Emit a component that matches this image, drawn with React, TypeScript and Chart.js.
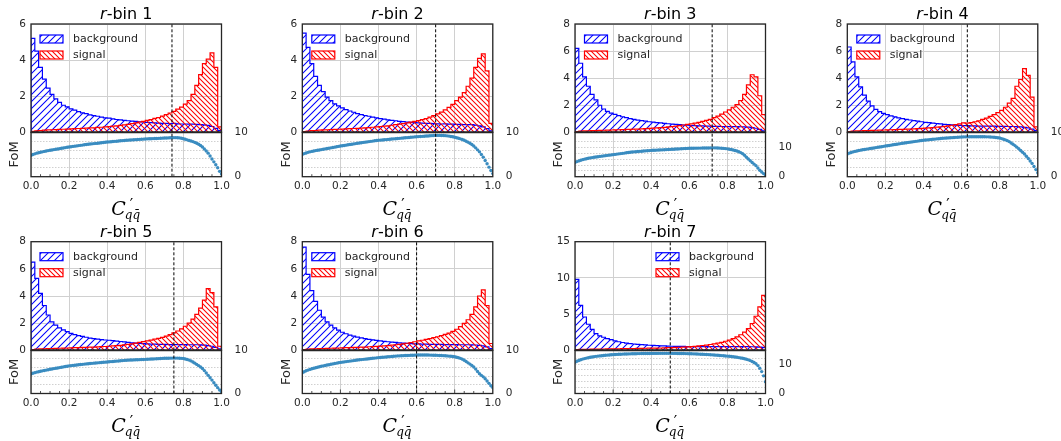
import React, { useEffect, useRef } from 'react';
import { Chart, registerables } from 'chart.js';

Chart.register(...registerables);

// ---------------- data ----------------
const BIN_STEP = 0.02; // 50 bins on [0, 1]
const FOM_STEP = 0.01; // FoM evaluated at cuts 0.00 ... 1.00
const X_TICK_STEP = 0.2;
const PANEL_NAMES = ['1', '2', '3', '4', '5', '6', '7'];
const LEGEND_LABELS = ['background', 'signal'];
const CUT_VALUES = [0.74, 0.7, 0.72, 0.63, 0.75, 0.6, 0.5];
const HIST_Y_MAX = [6, 6, 8, 8, 8, 8, 15];
const HIST_Y_STEP = [2, 2, 2, 2, 2, 2, 5];
const FOM_Y_MAX = [10, 10, 15.3, 10, 10, 10, 14.7];
const FOM_Y_GRID_STEP = 2;
const FOM_RIGHT_TICKS = [0, 10];

const BKG_1 = [5.2, 4.5, 3.6, 2.95, 2.45, 2.1, 1.85, 1.66, 1.5, 1.41, 1.3, 1.23, 1.15, 1.08, 1.03, 0.97, 0.92, 0.89, 0.84, 0.8, 0.78, 0.74, 0.71, 0.69, 0.66, 0.64, 0.62, 0.6, 0.58, 0.57, 0.55, 0.54, 0.52, 0.51, 0.5, 0.49, 0.48, 0.49, 0.47, 0.46, 0.46, 0.45, 0.45, 0.44, 0.43, 0.41, 0.38, 0.32, 0.22, 0.1];
const SIG_1 = [0.05, 0.08, 0.1, 0.12, 0.13, 0.14, 0.15, 0.16, 0.17, 0.18, 0.19, 0.2, 0.21, 0.22, 0.23, 0.24, 0.25, 0.27, 0.28, 0.3, 0.32, 0.34, 0.36, 0.38, 0.41, 0.44, 0.48, 0.52, 0.57, 0.6, 0.66, 0.7, 0.77, 0.82, 0.9, 0.98, 1.07, 1.16, 1.28, 1.4, 1.56, 1.75, 2.1, 2.6, 3.2, 3.8, 4.05, 4.4, 3.6, 0.3];
const BKG_2 = [5.5, 4.7, 3.8, 3.1, 2.6, 2.25, 1.95, 1.75, 1.58, 1.46, 1.35, 1.26, 1.18, 1.11, 1.04, 0.98, 0.93, 0.89, 0.84, 0.8, 0.76, 0.73, 0.69, 0.66, 0.64, 0.61, 0.59, 0.57, 0.55, 0.54, 0.52, 0.51, 0.5, 0.49, 0.48, 0.47, 0.46, 0.47, 0.45, 0.45, 0.44, 0.44, 0.43, 0.43, 0.42, 0.4, 0.36, 0.3, 0.2, 0.08];
const SIG_2 = [0.04, 0.07, 0.09, 0.1, 0.12, 0.13, 0.14, 0.15, 0.16, 0.17, 0.18, 0.19, 0.2, 0.21, 0.22, 0.23, 0.25, 0.26, 0.28, 0.3, 0.32, 0.34, 0.36, 0.39, 0.42, 0.45, 0.48, 0.52, 0.56, 0.61, 0.65, 0.7, 0.76, 0.84, 0.92, 1.02, 1.12, 1.24, 1.38, 1.55, 1.75, 1.95, 2.2, 2.55, 3.0, 3.6, 4.1, 4.35, 3.4, 0.5];
const BKG_3 = [6.2, 5.1, 4.1, 3.4, 2.8, 2.4, 2.0, 1.72, 1.55, 1.42, 1.32, 1.23, 1.15, 1.08, 1.01, 0.95, 0.9, 0.86, 0.82, 0.78, 0.75, 0.72, 0.69, 0.66, 0.63, 0.6, 0.58, 0.56, 0.54, 0.52, 0.5, 0.49, 0.48, 0.47, 0.46, 0.45, 0.44, 0.44, 0.43, 0.43, 0.42, 0.42, 0.42, 0.41, 0.4, 0.38, 0.35, 0.3, 0.22, 0.1];
const SIG_3 = [0.05, 0.08, 0.1, 0.11, 0.12, 0.13, 0.14, 0.15, 0.16, 0.17, 0.18, 0.19, 0.2, 0.21, 0.22, 0.23, 0.24, 0.26, 0.27, 0.29, 0.31, 0.33, 0.35, 0.37, 0.4, 0.43, 0.46, 0.5, 0.54, 0.58, 0.62, 0.68, 0.74, 0.8, 0.88, 0.96, 1.08, 1.2, 1.34, 1.5, 1.65, 1.85, 2.05, 2.35, 2.8, 3.5, 4.25, 4.1, 2.7, 1.3];
const BKG_4 = [6.3, 5.2, 4.1, 3.35, 2.75, 2.3, 1.95, 1.7, 1.52, 1.4, 1.3, 1.22, 1.14, 1.07, 1.01, 0.96, 0.91, 0.86, 0.82, 0.78, 0.74, 0.71, 0.68, 0.65, 0.62, 0.59, 0.57, 0.55, 0.53, 0.51, 0.5, 0.49, 0.48, 0.47, 0.46, 0.46, 0.45, 0.45, 0.45, 0.44, 0.44, 0.44, 0.43, 0.43, 0.42, 0.4, 0.37, 0.32, 0.24, 0.12];
const SIG_4 = [0.05, 0.08, 0.1, 0.11, 0.12, 0.13, 0.14, 0.15, 0.16, 0.17, 0.18, 0.19, 0.2, 0.21, 0.22, 0.23, 0.24, 0.26, 0.27, 0.29, 0.31, 0.33, 0.35, 0.38, 0.41, 0.44, 0.48, 0.52, 0.56, 0.62, 0.7, 0.68, 0.72, 0.78, 0.85, 0.95, 1.05, 1.18, 1.3, 1.45, 1.62, 1.85, 2.15, 2.5, 3.4, 3.9, 4.7, 4.2, 2.6, 0.4];
const BKG_5 = [6.5, 5.3, 4.2, 3.3, 2.6, 2.1, 1.85, 1.65, 1.5, 1.37, 1.25, 1.16, 1.08, 1.02, 0.96, 0.9, 0.86, 0.82, 0.79, 0.76, 0.74, 0.71, 0.68, 0.65, 0.62, 0.58, 0.55, 0.53, 0.51, 0.49, 0.47, 0.46, 0.45, 0.44, 0.43, 0.43, 0.42, 0.42, 0.42, 0.42, 0.42, 0.41, 0.41, 0.41, 0.4, 0.38, 0.35, 0.3, 0.22, 0.1];
const SIG_5 = [0.05, 0.08, 0.1, 0.11, 0.12, 0.13, 0.14, 0.15, 0.16, 0.17, 0.18, 0.19, 0.2, 0.21, 0.22, 0.23, 0.24, 0.25, 0.27, 0.28, 0.3, 0.32, 0.34, 0.37, 0.4, 0.44, 0.48, 0.53, 0.58, 0.64, 0.7, 0.75, 0.82, 0.88, 0.95, 1.05, 1.15, 1.28, 1.42, 1.58, 1.77, 2.0, 2.3, 2.65, 3.1, 3.7, 4.55, 4.25, 3.2, 0.3];
const BKG_6 = [7.6, 5.6, 4.4, 3.6, 2.95, 2.45, 2.1, 1.85, 1.65, 1.48, 1.33, 1.22, 1.12, 1.04, 0.97, 0.91, 0.86, 0.81, 0.77, 0.73, 0.69, 0.66, 0.63, 0.6, 0.58, 0.55, 0.53, 0.51, 0.49, 0.48, 0.47, 0.46, 0.45, 0.44, 0.44, 0.43, 0.43, 0.42, 0.42, 0.42, 0.42, 0.41, 0.41, 0.41, 0.4, 0.39, 0.37, 0.33, 0.25, 0.12];
const SIG_6 = [0.05, 0.08, 0.1, 0.11, 0.12, 0.13, 0.14, 0.15, 0.16, 0.17, 0.18, 0.19, 0.2, 0.21, 0.22, 0.23, 0.24, 0.26, 0.27, 0.29, 0.31, 0.33, 0.35, 0.38, 0.41, 0.44, 0.48, 0.52, 0.57, 0.63, 0.69, 0.74, 0.8, 0.86, 0.93, 1.0, 1.08, 1.17, 1.27, 1.4, 1.55, 1.75, 1.98, 2.25, 2.65, 3.2, 4.0, 4.45, 3.3, 0.5];
const BKG_7 = [9.8, 6.2, 4.6, 3.6, 2.9, 2.3, 2.0, 1.8, 1.62, 1.48, 1.3, 1.18, 1.08, 1.0, 0.93, 0.87, 0.82, 0.78, 0.74, 0.7, 0.67, 0.64, 0.62, 0.6, 0.58, 0.56, 0.55, 0.54, 0.53, 0.52, 0.52, 0.51, 0.51, 0.5, 0.5, 0.5, 0.5, 0.5, 0.5, 0.5, 0.5, 0.5, 0.5, 0.5, 0.5, 0.5, 0.49, 0.47, 0.44, 0.4];
const SIG_7 = [0.1, 0.12, 0.13, 0.14, 0.15, 0.16, 0.17, 0.18, 0.19, 0.2, 0.2, 0.21, 0.22, 0.23, 0.24, 0.25, 0.26, 0.27, 0.28, 0.29, 0.3, 0.31, 0.32, 0.34, 0.36, 0.38, 0.4, 0.42, 0.45, 0.48, 0.5, 0.55, 0.6, 0.66, 0.72, 0.8, 0.88, 0.98, 1.1, 1.25, 1.4, 1.6, 1.85, 2.15, 2.5, 3.0, 3.7, 4.7, 6.0, 7.6];

const FOM_1 = [4.8, 5.0, 5.15, 5.3, 5.4, 5.5, 5.6, 5.7, 5.8, 5.88, 5.95,
  6.03, 6.1, 6.18, 6.25, 6.32, 6.4, 6.47, 6.55, 6.62, 6.7,
  6.76, 6.82, 6.88, 6.94, 7.0, 7.06, 7.12, 7.18, 7.24, 7.3,
  7.35, 7.4, 7.45, 7.5, 7.55, 7.6, 7.65, 7.7, 7.75, 7.8,
  7.84, 7.88, 7.92, 7.96, 8.0, 8.04, 8.08, 8.12, 8.16, 8.2,
  8.23, 8.26, 8.29, 8.32, 8.35, 8.38, 8.41, 8.44, 8.47, 8.5,
  8.52, 8.54, 8.56, 8.58, 8.6, 8.62, 8.64, 8.66, 8.68, 8.7,
  8.72, 8.74, 8.76, 8.78, 8.8, 8.8, 8.78, 8.74, 8.66, 8.55,
  8.43, 8.3, 8.17, 8.04, 7.9, 7.72, 7.52, 7.3, 7.02, 6.7,
  6.25, 5.8, 5.3, 4.65, 4.0, 3.35, 2.7, 2.0, 1.2, 0.6];
const FOM_2 = [5.0, 5.2, 5.35, 5.48, 5.6, 5.7, 5.8, 5.88, 5.96, 6.03, 6.1,
  6.18, 6.26, 6.34, 6.42, 6.5, 6.58, 6.66, 6.74, 6.82, 6.9,
  6.97, 7.04, 7.11, 7.18, 7.25, 7.32, 7.39, 7.46, 7.53, 7.6,
  7.66, 7.72, 7.78, 7.84, 7.9, 7.96, 8.02, 8.08, 8.14, 8.2,
  8.24, 8.28, 8.32, 8.36, 8.4, 8.44, 8.48, 8.52, 8.56, 8.6,
  8.64, 8.68, 8.72, 8.76, 8.8, 8.84, 8.88, 8.92, 8.96, 9.0,
  9.03, 9.06, 9.09, 9.12, 9.15, 9.18, 9.21, 9.24, 9.27, 9.3,
  9.3, 9.3, 9.29, 9.27, 9.25, 9.2, 9.14, 9.07, 8.99, 8.9,
  8.78, 8.66, 8.53, 8.38, 8.2, 8.0, 7.78, 7.53, 7.24, 6.9,
  6.5, 6.05, 5.6, 5.0, 4.4, 3.65, 2.9, 2.15, 1.4, 0.7];
const FOM_3 = [4.9, 5.2, 5.45, 5.67, 5.87, 6.05, 6.2, 6.34, 6.47, 6.59, 6.7,
  6.8, 6.9, 6.99, 7.08, 7.17, 7.26, 7.35, 7.43, 7.52, 7.6,
  7.69, 7.78, 7.87, 7.96, 8.05, 8.14, 8.23, 8.32, 8.41, 8.5,
  8.56, 8.62, 8.67, 8.73, 8.78, 8.84, 8.9, 8.95, 9.0, 9.06,
  9.09, 9.13, 9.16, 9.2, 9.23, 9.26, 9.3, 9.33, 9.37, 9.4,
  9.44, 9.48, 9.52, 9.56, 9.6, 9.64, 9.68, 9.72, 9.76, 9.8,
  9.81, 9.82, 9.83, 9.84, 9.85, 9.86, 9.87, 9.88, 9.89, 9.9,
  9.93, 9.95, 9.94, 9.92, 9.89, 9.85, 9.8, 9.75, 9.68, 9.6,
  9.48, 9.35, 9.2, 9.03, 8.85, 8.6, 8.3, 7.95, 7.4, 6.7,
  6.1, 5.5, 4.9, 4.35, 3.8, 3.0, 2.2, 1.6, 1.06, 0.6];
const FOM_4 = [5.1, 5.3, 5.45, 5.58, 5.7, 5.8, 5.9, 5.98, 6.06, 6.13, 6.2,
  6.27, 6.34, 6.41, 6.48, 6.55, 6.62, 6.69, 6.76, 6.83, 6.9,
  6.97, 7.04, 7.11, 7.18, 7.25, 7.32, 7.39, 7.46, 7.53, 7.6,
  7.66, 7.72, 7.78, 7.84, 7.9, 7.96, 8.02, 8.08, 8.14, 8.2,
  8.25, 8.29, 8.34, 8.38, 8.43, 8.47, 8.52, 8.56, 8.61, 8.65,
  8.68, 8.71, 8.74, 8.77, 8.8, 8.83, 8.86, 8.89, 8.92, 8.95,
  8.96, 8.97, 8.98, 8.99, 9.0, 9.0, 9.0, 9.0, 9.0, 9.0,
  9.0, 8.99, 8.98, 8.97, 8.95, 8.92, 8.88, 8.83, 8.77, 8.7,
  8.58, 8.45, 8.3, 8.12, 7.9, 7.6, 7.3, 7.0, 6.65, 6.3,
  5.9, 5.5, 5.1, 4.6, 4.1, 3.55, 3.0, 2.3, 1.6, 0.9];
const FOM_5 = [4.5, 4.7, 4.83, 4.95, 5.05, 5.15, 5.24, 5.33, 5.42, 5.51, 5.6,
  5.68, 5.76, 5.84, 5.92, 6.0, 6.08, 6.16, 6.24, 6.32, 6.4,
  6.45, 6.5, 6.55, 6.6, 6.65, 6.7, 6.75, 6.8, 6.85, 6.9,
  6.94, 6.98, 7.02, 7.06, 7.1, 7.14, 7.18, 7.22, 7.26, 7.3,
  7.34, 7.38, 7.42, 7.46, 7.5, 7.54, 7.58, 7.62, 7.66, 7.7,
  7.72, 7.74, 7.76, 7.78, 7.8, 7.82, 7.84, 7.86, 7.88, 7.9,
  7.92, 7.95, 7.97, 8.0, 8.02, 8.05, 8.07, 8.1, 8.12, 8.15,
  8.16, 8.17, 8.18, 8.19, 8.2, 8.2, 8.19, 8.17, 8.14, 8.1,
  8.0, 7.88, 7.73, 7.55, 7.3, 7.03, 6.74, 6.45, 6.13, 5.8,
  5.3, 4.75, 4.2, 3.65, 3.1, 2.5, 1.9, 1.35, 0.8, 0.4];
const FOM_6 = [4.8, 5.05, 5.25, 5.42, 5.58, 5.72, 5.85, 5.97, 6.09, 6.2, 6.3,
  6.4, 6.49, 6.58, 6.67, 6.76, 6.85, 6.94, 7.03, 7.12, 7.2,
  7.26, 7.32, 7.38, 7.44, 7.5, 7.56, 7.62, 7.68, 7.74, 7.8,
  7.85, 7.9, 7.95, 8.0, 8.05, 8.1, 8.15, 8.2, 8.25, 8.3,
  8.34, 8.38, 8.42, 8.46, 8.5, 8.54, 8.58, 8.62, 8.66, 8.7,
  8.72, 8.74, 8.76, 8.78, 8.8, 8.82, 8.84, 8.86, 8.88, 8.9,
  8.9, 8.91, 8.91, 8.91, 8.9, 8.9, 8.89, 8.88, 8.87, 8.85,
  8.83, 8.81, 8.79, 8.76, 8.73, 8.7, 8.66, 8.62, 8.56, 8.5,
  8.4, 8.28, 8.14, 7.95, 7.7, 7.4, 7.1, 6.8, 6.5, 6.15,
  5.65, 5.1, 4.6, 4.2, 3.85, 3.4, 2.9, 2.35, 1.8, 1.4];
const FOM_7 = [10.6, 10.95, 11.25, 11.5, 11.7, 11.88, 12.04, 12.18, 12.31, 12.43, 12.55,
  12.64, 12.72, 12.8, 12.87, 12.94, 13.0, 13.06, 13.12, 13.17, 13.22,
  13.26, 13.3, 13.34, 13.37, 13.4, 13.43, 13.46, 13.48, 13.5, 13.52,
  13.54, 13.55, 13.57, 13.58, 13.59, 13.6, 13.61, 13.62, 13.63, 13.64,
  13.64, 13.65, 13.65, 13.66, 13.66, 13.66, 13.66, 13.66, 13.66, 13.66,
  13.65, 13.65, 13.64, 13.63, 13.62, 13.61, 13.6, 13.58, 13.56, 13.54,
  13.52, 13.5, 13.47, 13.44, 13.41, 13.38, 13.35, 13.31, 13.27, 13.23,
  13.19, 13.15, 13.1, 13.05, 13.0, 12.95, 12.9, 12.84, 12.78, 12.72,
  12.65, 12.58, 12.5, 12.41, 12.32, 12.22, 12.1, 11.97, 11.82, 11.65,
  11.45, 11.2, 10.9, 10.55, 10.1, 9.5, 8.6, 7.45, 6.0, 4.0];

const BKG_SERIES = [BKG_1, BKG_2, BKG_3, BKG_4, BKG_5, BKG_6, BKG_7];
const SIG_SERIES = [SIG_1, SIG_2, SIG_3, SIG_4, SIG_5, SIG_6, SIG_7];
const FOM_SERIES = [FOM_1, FOM_2, FOM_3, FOM_4, FOM_5, FOM_6, FOM_7];

// ---------------- styling / layout ----------------
const FONT = '"DejaVu Sans"';
const TEXT_COLOR = '#262626';
const GRID_COLOR = '#d0d0d0';
const FRAME_COLOR = '#262626';
const BKG_COLOR = '#0000ff';
const SIG_COLOR = '#ff0000';
const FOM_COLOR = '#3a8cc0';

const COL_LEFT = [31, 302.3, 575, 847.3];
const PLOT_W = 190.5;
const ROWS = [
  { top: 24, zero: 132.3, bottom: 176.7 },
  { top: 241.7, zero: 350.3, bottom: 393.5 },
];
const LEGEND_OFFSET = [9, 9.5, 9.5, 9.5, 9, 9.5, 81];
const Y_AXIS_W = 30;
const Y2_AXIS_W = 26;
const X_AXIS_H = 22;

Chart.defaults.font.family = FONT;

// anti-aliased hatch tile, like matplotlib hatching
function makeHatch(color: string, size: number, dir: '/' | '\\') {
  const c = document.createElement('canvas');
  c.width = size;
  c.height = size;
  const g = c.getContext('2d')!;
  g.strokeStyle = color;
  g.lineWidth = 1.05;
  g.lineCap = 'square';
  g.beginPath();
  for (let k = -1; k <= 1; k++) {
    if (dir === '/') {
      g.moveTo(k * size - 1, size + 1);
      g.lineTo(k * size + size + 1, -1);
    } else {
      g.moveTo(k * size - 1, -1);
      g.lineTo(k * size + size + 1, size + 1);
    }
  }
  g.stroke();
  return g.createPattern(c, 'repeat')!;
}

function histPoints(vals: number[]) {
  const pts = [{ x: 0, y: 0 }];
  vals.forEach((v, i) => pts.push({ x: i * BIN_STEP, y: v }));
  pts.push({ x: 1, y: vals[vals.length - 1] });
  pts.push({ x: 1, y: 0 });
  return pts;
}

function fomPoints(vals: number[]) {
  return vals.map((v, i) => ({ x: i * FOM_STEP, y: v }));
}

function Panel({ index }: { index: number }) {
  const histRef = useRef<HTMLCanvasElement>(null);
  const fomRef = useRef<HTMLCanvasElement>(null);
  const col = index % 4;
  const row = Math.floor(index / 4);
  const L = COL_LEFT[col];
  const R = L + PLOT_W;
  const { top: T, zero: Z, bottom: B } = ROWS[row];

  const hx = Math.floor(L) - 46;
  const hy = Math.floor(T) - 30;
  const hw = Math.ceil(R) + 34 - hx;
  const hh = Math.ceil(Z) + 12 - hy;
  const fx = hx;
  const fy = Math.floor(Z) - 12;
  const fw = hw;
  const fh = Math.ceil(B) + 52 - fy;

  useEffect(() => {
    const blueHatch = makeHatch(BKG_COLOR, 7, '/');
    const redHatch = makeHatch(SIG_COLOR, 5, '\\');
    const ymax = HIST_Y_MAX[index];
    const fmax = FOM_Y_MAX[index];
    const cut = CUT_VALUES[index];
    const tickFont = { family: FONT, size: 10.5 };

    const histDecor = {
      id: 'histDecor',
      afterDraw(chart: any) {
        const { ctx, chartArea: a } = chart;
        ctx.save();
        ctx.strokeStyle = FRAME_COLOR;
        ctx.lineWidth = 1.3;
        ctx.strokeRect(a.left, a.top, a.right - a.left, a.bottom - a.top);
        // title
        const cx = (a.left + a.right) / 2;
        ctx.fillStyle = '#000';
        ctx.textBaseline = 'alphabetic';
        ctx.textAlign = 'left';
        ctx.font = `italic 16px ${FONT}`;
        const w1 = ctx.measureText('r').width;
        ctx.font = `16px ${FONT}`;
        const rest = '-bin ' + PANEL_NAMES[index];
        const w2 = ctx.measureText(rest).width;
        const x0 = cx - (w1 + w2) / 2;
        ctx.font = `italic 16px ${FONT}`;
        ctx.fillText('r', x0, a.top - 5);
        ctx.font = `16px ${FONT}`;
        ctx.fillText(rest, x0 + w1, a.top - 5);
        // legend
        const lx = a.left + LEGEND_OFFSET[index];
        const patterns = [blueHatch, redHatch];
        const colors = [BKG_COLOR, SIG_COLOR];
        ctx.font = `11px ${FONT}`;
        ctx.textBaseline = 'middle';
        LEGEND_LABELS.forEach((lab, k) => {
          const ly = a.top + 15 + k * 16;
          ctx.fillStyle = patterns[k];
          ctx.fillRect(lx, ly - 4, 23, 8);
          ctx.strokeStyle = colors[k];
          ctx.lineWidth = 1.2;
          ctx.strokeRect(lx, ly - 4, 23, 8);
          ctx.fillStyle = TEXT_COLOR;
          ctx.fillText(lab, lx + 33, ly + 0.5);
        });
        ctx.restore();
      },
    };

    const histChart = new Chart(histRef.current!, {
      type: 'scatter',
      data: {
        datasets: [
          {
            data: [{ x: cut, y: 0 }, { x: cut, y: ymax }],
            showLine: true,
            borderColor: '#000',
            borderWidth: 1,
            borderDash: [3, 2],
            pointRadius: 0,
            fill: false,
          },
          {
            data: histPoints(SIG_SERIES[index]),
            showLine: true,
            stepped: 'before',
            borderColor: SIG_COLOR,
            borderWidth: 1.2,
            backgroundColor: redHatch,
            fill: 'origin',
            pointRadius: 0,
          },
          {
            data: histPoints(BKG_SERIES[index]),
            showLine: true,
            stepped: 'before',
            borderColor: BKG_COLOR,
            borderWidth: 1.2,
            backgroundColor: blueHatch,
            fill: 'origin',
            pointRadius: 0,
          },
        ],
      } as any,
      options: {
        responsive: false,
        animation: false,
        events: [],
        layout: {
          padding: { left: L - hx - Y_AXIS_W, top: T - hy, right: hx + hw - R, bottom: hy + hh - Z },
        },
        plugins: { legend: { display: false }, tooltip: { enabled: false }, title: { display: false } },
        scales: {
          x: {
            type: 'linear',
            min: 0,
            max: 1,
            ticks: { display: false, stepSize: X_TICK_STEP },
            grid: { color: GRID_COLOR, drawTicks: false, lineWidth: 1 },
            border: { display: false },
            afterFit: (s: any) => { s.height = 0; },
          },
          y: {
            type: 'linear',
            min: 0,
            max: ymax,
            ticks: { stepSize: HIST_Y_STEP[index], font: tickFont, color: TEXT_COLOR, padding: 5 },
            grid: { color: GRID_COLOR, drawTicks: false, lineWidth: 1 },
            border: { display: false },
            afterFit: (s: any) => { s.width = Y_AXIS_W; },
          },
        },
      } as any,
      plugins: [histDecor],
    });

    const fomDecor = {
      id: 'fomDecor',
      afterDraw(chart: any) {
        const { ctx, chartArea: a, scales } = chart;
        ctx.save();
        // minor ticks on bottom spine
        ctx.strokeStyle = FRAME_COLOR;
        ctx.lineWidth = 0.8;
        for (let k = 1; k < 20; k++) {
          const px = scales.x.getPixelForValue(k * 0.05);
          const len = k % 4 === 0 ? 4 : 2.5;
          ctx.beginPath();
          ctx.moveTo(px, a.bottom);
          ctx.lineTo(px, a.bottom - len);
          ctx.stroke();
        }
        ctx.lineWidth = 1.3;
        ctx.strokeRect(a.left, a.top, a.right - a.left, a.bottom - a.top);
        ctx.lineWidth = 1.8;
        ctx.beginPath();
        ctx.moveTo(a.left, a.top);
        ctx.lineTo(a.right, a.top);
        ctx.stroke();
        // FoM label
        ctx.fillStyle = TEXT_COLOR;
        ctx.font = `13px ${FONT}`;
        ctx.textAlign = 'center';
        ctx.textBaseline = 'middle';
        ctx.save();
        ctx.translate(a.left - 16, (a.top + a.bottom) / 2);
        ctx.rotate(-Math.PI / 2);
        ctx.fillText('FoM', 0, 0);
        ctx.restore();
        // x axis title C'_{q qbar}
        const cx = (a.left + a.right) / 2;
        const by = a.bottom + 38;
        ctx.textAlign = 'left';
        ctx.textBaseline = 'alphabetic';
        ctx.fillStyle = '#000';
        ctx.font = `italic 19px "DejaVu Serif"`;
        const wC = ctx.measureText('C').width;
        ctx.font = `italic 12px "DejaVu Serif"`;
        const sub = 'qq\u0304';
        const wS = ctx.measureText(sub).width;
        const x0 = cx - (wC + wS) / 2;
        ctx.font = `italic 19px "DejaVu Serif"`;
        ctx.fillText('C', x0, by);
        ctx.font = `15px "DejaVu Sans"`;
        ctx.fillText('\u2032', x0 + wC + 4, by - 5);
        ctx.font = `italic 12px "DejaVu Serif"`;
        ctx.fillText(sub, x0 + wC - 1, by + 4);
        ctx.restore();
      },
    };

    const fomChart = new Chart(fomRef.current!, {
      type: 'scatter',
      data: {
        datasets: [
          {
            data: [{ x: cut, y: 0 }, { x: cut, y: fmax }],
            showLine: true,
            borderColor: '#000',
            borderWidth: 1,
            borderDash: [3, 2],
            pointRadius: 0,
            fill: false,
          },
          {
            data: fomPoints(FOM_SERIES[index]),
            showLine: false,
            pointRadius: 1.7,
            pointBorderWidth: 0,
            pointBackgroundColor: FOM_COLOR,
            pointBorderColor: FOM_COLOR,
          },
        ],
      } as any,
      options: {
        responsive: false,
        animation: false,
        events: [],
        layout: {
          padding: {
            left: L - fx,
            top: Z - fy,
            right: fx + fw - R - Y2_AXIS_W,
            bottom: fy + fh - B - X_AXIS_H,
          },
        },
        plugins: { legend: { display: false }, tooltip: { enabled: false }, title: { display: false } },
        scales: {
          x: {
            type: 'linear',
            min: 0,
            max: 1,
            ticks: {
              stepSize: X_TICK_STEP,
              font: tickFont,
              color: TEXT_COLOR,
              padding: 3,
              maxRotation: 0,
              autoSkip: false,
              callback: (v: any) => Number(v).toFixed(1),
            },
            grid: { color: GRID_COLOR, drawTicks: false, lineWidth: 1 },
            border: { display: false },
            afterFit: (s: any) => { s.height = X_AXIS_H; },
          },
          y: {
            type: 'linear',
            position: 'left',
            min: 0,
            max: fmax,
            ticks: { display: false, stepSize: FOM_Y_GRID_STEP },
            grid: { color: '#c4c4c4', drawTicks: false, lineWidth: 0.8 },
            border: { display: false, dash: [1.5, 1.5] },
            afterFit: (s: any) => { s.width = 0; },
          },
          y2: {
            type: 'linear',
            position: 'right',
            min: 0,
            max: fmax,
            afterBuildTicks: (s: any) => { s.ticks = FOM_RIGHT_TICKS.map((v) => ({ value: v })); },
            ticks: { font: tickFont, color: TEXT_COLOR, padding: 5 },
            grid: { display: false },
            border: { display: false },
            afterFit: (s: any) => { s.width = Y2_AXIS_W; },
          },
        },
      } as any,
      plugins: [fomDecor],
    });

    return () => {
      histChart.destroy();
      fomChart.destroy();
    };
  }, [index]);

  return (
    <>
      <canvas
        ref={histRef}
        width={hw}
        height={hh}
        style={{ position: 'absolute', left: hx, top: hy, width: hw, height: hh }}
      />
      <canvas
        ref={fomRef}
        width={fw}
        height={fh}
        style={{ position: 'absolute', left: fx, top: fy, width: fw, height: fh }}
      />
    </>
  );
}

export default function App() {
  return (
    <div
      style={{
        position: 'absolute',
        left: 0,
        top: 0,
        width: 1061,
        height: 441,
        background: '#fff',
        overflow: 'hidden',
      }}
    >
      {PANEL_NAMES.map((_, i) => (
        <Panel key={i} index={i} />
      ))}
    </div>
  );
}
